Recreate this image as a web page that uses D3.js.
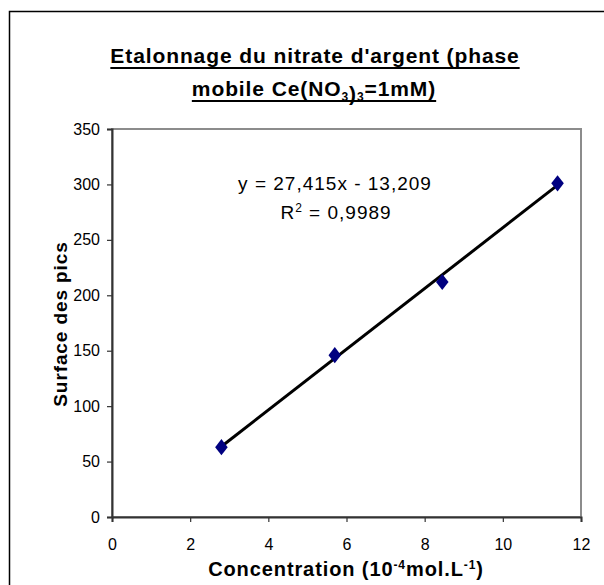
<!DOCTYPE html>
<html><head><meta charset="utf-8">
<script src="https://cdn.jsdelivr.net/npm/d3@7"></script>
<style>body{margin:0;background:#fff;}svg{display:block;font-family:"Liberation Sans",Arial,sans-serif;}
.axis text{font-size:16px;fill:#000;}</style>
</head><body><svg id="c" width="604" height="585"></svg>
<script>
const concentrations = [2.8, 5.7, 8.45, 11.4];
const surfaces = [63, 146, 212, 301];
const xTicks = [0, 2, 4, 6, 8, 10, 12];
const yTicks = [0, 50, 100, 150, 200, 250, 300, 350];
const slope = 27.415, intercept = -13.209;

const svg = d3.select("#c");
const L = 112, R = 581, T = 129, B = 517;
const x = d3.scaleLinear().domain([0, 12]).range([L, R]);
const y = d3.scaleLinear().domain([0, 350]).range([B, T]);

// outer frame
svg.append("rect").attr("x", 9.5).attr("y", 11.5).attr("width", 600).attr("height", 600)
  .attr("fill", "#fff").attr("stroke", "#000").attr("stroke-width", 1.5);

// plot area border (gray)
svg.append("rect").attr("x", L).attr("y", T).attr("width", R - L).attr("height", B - T)
  .attr("fill", "#fff").attr("stroke", "#8c8c8c").attr("stroke-width", 2);

// axes
const xAxis = d3.axisBottom(x).tickValues(xTicks).tickSize(5).tickPadding(17).tickFormat(d3.format("d"));
const yAxis = d3.axisLeft(y).tickValues(yTicks).tickSize(5).tickPadding(7).tickFormat(d3.format("d"));
const gx = svg.append("g").attr("class", "axis").attr("transform", `translate(0,${B})`).call(xAxis);
const gy = svg.append("g").attr("class", "axis").attr("transform", `translate(${L},0)`).call(yAxis);
[gx, gy].forEach(g => {
  g.attr("font-size", 16).attr("font-family", "'Liberation Sans', Arial, sans-serif");
  g.select(".domain").attr("stroke", "#333").attr("stroke-width", 2);
  g.selectAll(".tick line").attr("stroke", "#333").attr("stroke-width", 1.2);
  g.selectAll(".tick text").attr("fill", "#000");
});

// trend line
const x0 = d3.min(concentrations), x1 = d3.max(concentrations);
svg.append("line")
  .attr("x1", x(x0)).attr("y1", y(slope * x0 + intercept))
  .attr("x2", x(x1)).attr("y2", y(slope * x1 + intercept))
  .attr("stroke", "#000").attr("stroke-width", 3);

// markers
const sym = d3.symbol().type(d3.symbolDiamond).size(75);
svg.selectAll("path.pt").data(concentrations).enter().append("path")
  .attr("class", "pt")
  .attr("transform", (d, i) => `translate(${x(d)},${y(surfaces[i])}) scale(1.35,1)`)
  .attr("d", sym).attr("fill", "#000080");

// title
const title = svg.append("g").attr("font-weight", "bold").attr("font-size", "21px")
  .attr("text-anchor", "middle").style("letter-spacing", "0.9px");
const t1 = title.append("text").attr("x", 315).attr("y", 63).text("Etalonnage du nitrate d'argent (phase");
const t2 = title.append("text").attr("x", 314).attr("y", 96);
t2.append("tspan").text("mobile Ce(NO");
t2.append("tspan").attr("font-size", "12px").attr("dy", 5).text("3");
t2.append("tspan").attr("dy", 0).text(")");
t2.append("tspan").attr("font-size", "12px").attr("dy", 0).text("3");
t2.append("tspan").attr("dy", -5).text("=1mM)");
[t1, t2].forEach(t => {
  const b = t.node().getBBox();
  const uy = +t.attr("y") + 5;
  svg.append("line").attr("x1", b.x).attr("x2", b.x + b.width).attr("y1", uy).attr("y2", uy)
    .attr("stroke", "#000").attr("stroke-width", 1.8);
});

// equation
svg.append("text").attr("x", 335).attr("y", 190).attr("text-anchor", "middle").attr("font-size", "19px")
  .style("letter-spacing", "1px").text("y = 27,415x - 13,209");
const r2 = svg.append("text").attr("x", 336).attr("y", 219).attr("text-anchor", "middle").attr("font-size", "19px")
  .style("letter-spacing", "1px");
r2.append("tspan").text("R");
r2.append("tspan").attr("font-size", "12px").attr("dy", -7).text("2");
r2.append("tspan").attr("dy", 7).text(" = 0,9989");

// axis titles
const xt = svg.append("text").attr("x", 346).attr("y", 576).attr("text-anchor", "middle")
  .attr("font-weight", "bold").attr("font-size", "20px").style("letter-spacing", "0.9px");
xt.append("tspan").text("Concentration (10");
xt.append("tspan").attr("font-size", "12px").attr("dy", -7).text("-4");
xt.append("tspan").attr("dy", 7).text("mol.L");
xt.append("tspan").attr("font-size", "12px").attr("dy", -7).text("-1");
xt.append("tspan").attr("dy", 7).text(")");

svg.append("text").attr("transform", "translate(67,324) rotate(-90)").attr("text-anchor", "middle")
  .attr("font-weight", "bold").attr("font-size", "19px").style("letter-spacing", "0.9px").text("Surface des pics");
</script></body></html>
